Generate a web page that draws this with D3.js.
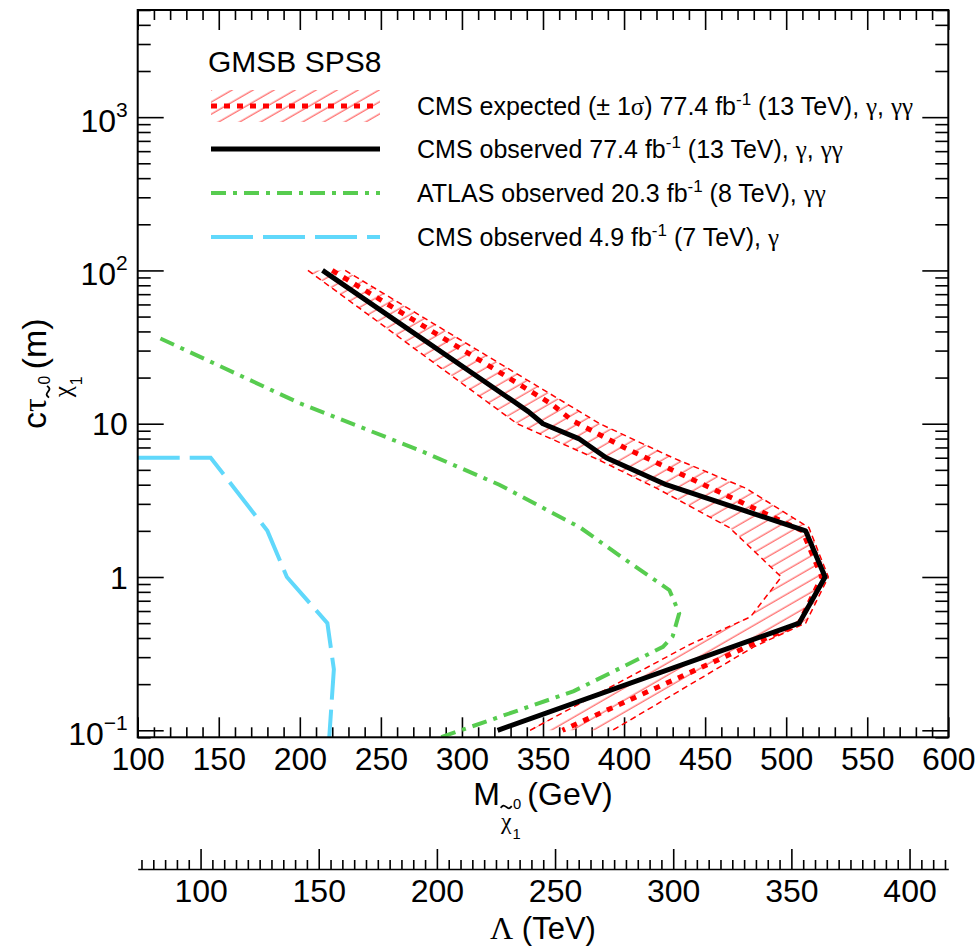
<!DOCTYPE html>
<html lang="en">
<head>
<meta charset="utf-8">
<title>GMSB SPS8 | long-lived neutralino limits</title>
<script src="https://cdnjs.cloudflare.com/ajax/libs/d3/7.8.5/d3.min.js"></script>
<style>
  body { margin: 0; background: #fff; }
  svg { display: block; font-family: "Liberation Sans", Arial, Helvetica, sans-serif; }
  .axis path, .axis line { stroke: #000; stroke-width: 1.6px; }
  .axis text { font-size: 32px; fill: #000; font-family: "Liberation Sans", Arial, sans-serif; }
</style>
</head>
<body>
<div id="chart"></div>
<script>
// ---- data (M in GeV, c*tau in m) ----
var massObs  = [214, 341, 350, 372, 389, 426, 512, 524, 508, 322];
var ctauObs  = [100, 12, 10, 8, 6, 4, 2, 1, 0.5, 0.1];

var massExp  = [220, 355, 368, 400, 510, 522, 508, 362];
var ctauExp  = [100, 13.5, 10.5, 7, 2, 1, 0.5, 0.1];

// +1 sigma (outer) and -1 sigma (inner) edges of the expected band
var massUp   = [228, 385, 430, 475, 514, 526, 512, 480, 393];
var ctauUp   = [100, 10, 6, 3.8, 2.1, 1, 0.5, 0.35, 0.1];
var massDn   = [205, 334, 383, 420, 465, 497, 478, 440, 342];
var ctauDn   = [100, 10, 5.9, 3.8, 2.1, 1, 0.55, 0.36, 0.1];

var massAtlas = [114, 200, 274, 323, 373, 398, 428, 434, 430, 424, 369, 280];
var ctauAtlas = [36, 13.6, 6.7, 4.0, 2.1, 1.36, 0.82, 0.58, 0.41, 0.35, 0.18, 0.085];

var massCms7 = [100, 145, 180, 192, 217, 221, 218];
var ctauCms7 = [6, 6, 2, 1, 0.5, 0.25, 0.085];

var xTickLabels = ["100", "150", "200", "250", "300", "350", "400", "450", "500", "550", "600"];
var yTickVals   = [0.1, 1, 10, 100, 1000];
var yTickBase   = ["10", "1", "10", "10", "10"];
var yTickExp    = ["\u22121", "", "", "2", "3"];
var lamTickLabels = ["100", "150", "200", "250", "300", "350", "400"];

var legendLabels = [
  ["CMS expected (\u00b1 1", "\u03c3", ") 77.4 fb", "-1", " (13 TeV), ", "\u03b3", ", ", "\u03b3\u03b3"],
  ["CMS observed 77.4 fb", "-1", " (13 TeV), ", "\u03b3", ", ", "\u03b3\u03b3"],
  ["ATLAS observed 20.3 fb", "-1", " (8 TeV), ", "\u03b3\u03b3"],
  ["CMS observed 4.9 fb", "-1", " (7 TeV), ", "\u03b3"]
];

function zip(ms, cs) { return ms.map(function (m, i) { return [m, cs[i]]; }); }

var W = 979, H = 947;
var frame = { left: 137.7, right: 948.3, top: 10, bottom: 737.3 };

var svg = d3.select("#chart").append("svg")
  .attr("width", W).attr("height", H);

var x = d3.scaleLinear().domain([100, 600]).range([frame.left, frame.right]);
var y = d3.scaleLog().domain([0.09, 5000]).range([frame.bottom, frame.top]);
var lam = d3.scaleLinear().domain([73.4, 416.4]).range([frame.left, frame.right]);

var defs = svg.append("defs");
defs.append("clipPath").attr("id", "clip")
  .append("rect")
  .attr("x", frame.left).attr("y", frame.top)
  .attr("width", frame.right - frame.left).attr("height", frame.bottom - frame.top);

var pat = defs.append("pattern")
  .attr("id", "hatch")
  .attr("patternUnits", "userSpaceOnUse")
  .attr("width", 10).attr("height", 10.5)
  .attr("patternTransform", "rotate(-30)");
pat.append("line")
  .attr("x1", 0).attr("y1", 5).attr("x2", 10).attr("y2", 5)
  .attr("stroke", "#ff6a6a").attr("stroke-width", 1.3);

// ---- ticks ----
var xMajor = d3.range(100, 601, 50);
var xMinor = d3.range(100, 601, 10).filter(function (v) { return v % 50 !== 0; });
var yMinor = [];
[-2, -1, 0, 1, 2, 3].forEach(function (d) {
  for (var k = 2; k <= 9; k++) {
    var v = k * Math.pow(10, d);
    if (v >= 0.09 && v <= 5000) yMinor.push(+v.toPrecision(3));
  }
});

function cleanAxis(g) { g.select(".domain").remove(); }

svg.append("g").attr("class", "axis")
  .attr("transform", "translate(0," + frame.bottom + ")")
  .call(d3.axisBottom(x).tickValues(xMajor).tickSize(-20)
    .tickFormat(function (d, i) { return xTickLabels[i]; }))
  .call(cleanAxis)
  .selectAll("text").attr("y", 33).attr("dy", null);

svg.append("g").attr("class", "axis")
  .attr("transform", "translate(0," + frame.bottom + ")")
  .call(d3.axisBottom(x).tickValues(xMinor).tickSize(-10).tickFormat(""))
  .call(cleanAxis);

svg.append("g").attr("class", "axis")
  .attr("transform", "translate(0," + frame.top + ")")
  .call(d3.axisTop(x).tickValues(xMajor).tickSize(-20).tickFormat(""))
  .call(cleanAxis);

svg.append("g").attr("class", "axis")
  .attr("transform", "translate(0," + frame.top + ")")
  .call(d3.axisTop(x).tickValues(xMinor).tickSize(-10).tickFormat(""))
  .call(cleanAxis);

var yLeft = svg.append("g").attr("class", "axis")
  .attr("transform", "translate(" + frame.left + ",0)")
  .call(d3.axisLeft(y).tickValues(yTickVals).tickSize(-26).tickFormat(""))
  .call(cleanAxis);

yLeft.selectAll(".tick text").each(function (d, i) {
  var t = d3.select(this).attr("x", -10);
  t.text(null);
  t.append("tspan").text(yTickBase[i]);
  if (yTickExp[i]) {
    t.attr("dy", null).attr("y", 14.5);
    t.append("tspan").attr("dy", -15).style("font-size", "21px").text(yTickExp[i]);
  } else {
    t.attr("dy", null).attr("y", 11);
  }
});

svg.append("g").attr("class", "axis")
  .attr("transform", "translate(" + frame.left + ",0)")
  .call(d3.axisLeft(y).tickValues(yMinor).tickSize(-13).tickFormat(""))
  .call(cleanAxis);

svg.append("g").attr("class", "axis")
  .attr("transform", "translate(" + frame.right + ",0)")
  .call(d3.axisRight(y).tickValues(yTickVals).tickSize(-26).tickFormat(""))
  .call(cleanAxis);

svg.append("g").attr("class", "axis")
  .attr("transform", "translate(" + frame.right + ",0)")
  .call(d3.axisRight(y).tickValues(yMinor).tickSize(-13).tickFormat(""))
  .call(cleanAxis);

// ---- secondary Lambda axis ----
var lamMajor = d3.range(100, 401, 50);
var lamMinor = d3.range(75, 416, 5).filter(function (v) { return v % 50 !== 0; });
var lamY = 869;

svg.append("g").attr("class", "axis")
  .attr("transform", "translate(0," + lamY + ")")
  .call(d3.axisBottom(lam).tickValues(lamMajor).tickSize(-20).tickSizeOuter(0)
    .tickFormat(function (d, i) { return lamTickLabels[i]; }))
  .selectAll("text").attr("y", 33).attr("dy", null);

svg.append("g").attr("class", "axis")
  .attr("transform", "translate(0," + lamY + ")")
  .call(d3.axisBottom(lam).tickValues(lamMinor).tickSize(-9).tickFormat(""))
  .call(cleanAxis);

// ---- curves ----
var line = d3.line()
  .x(function (d) { return x(d[0]); })
  .y(function (d) { return y(d[1]); });

var plot = svg.append("g").attr("clip-path", "url(#clip)");

var up = zip(massUp, ctauUp), dn = zip(massDn, ctauDn);
plot.append("path")
  .attr("d", line(up.concat(dn.slice().reverse())) + "Z")
  .attr("fill", "url(#hatch)").attr("stroke", "none");

[up, dn].forEach(function (pts) {
  plot.append("path").attr("d", line(pts))
    .attr("fill", "none").attr("stroke", "#ff0000")
    .attr("stroke-width", 1.5).attr("stroke-dasharray", "6,4");
});

plot.append("path").attr("d", line(zip(massAtlas, ctauAtlas)))
  .attr("fill", "none").attr("stroke", "#57cc4f")
  .attr("stroke-width", 4).attr("stroke-dasharray", "15,7,4,7");

plot.append("path").attr("d", line(zip(massCms7, ctauCms7)))
  .attr("fill", "none").attr("stroke", "#60d8fb")
  .attr("stroke-width", 4).attr("stroke-dasharray", "42,10");

plot.append("path").attr("d", line(zip(massExp, ctauExp)))
  .attr("fill", "none").attr("stroke", "#ff0000")
  .attr("stroke-width", 5).attr("stroke-dasharray", "6,7");

plot.append("path").attr("d", line(zip(massObs, ctauObs)))
  .attr("fill", "none").attr("stroke", "#000")
  .attr("stroke-width", 5).attr("stroke-linejoin", "round");

// frame
svg.append("rect")
  .attr("x", frame.left).attr("y", frame.top)
  .attr("width", frame.right - frame.left).attr("height", frame.bottom - frame.top)
  .attr("fill", "none").attr("stroke", "#000").attr("stroke-width", 2);

// ---- legend ----
var leg = svg.append("g");
leg.append("text").attr("x", 208).attr("y", 72)
  .style("font-size", "30px").text("GMSB SPS8");

var legY = [106, 149, 193, 237];
var sx0 = 211, sx1 = 380, tx = 417;

leg.append("rect").attr("x", sx0).attr("y", legY[0] - 16)
  .attr("width", sx1 - sx0).attr("height", 32).attr("fill", "url(#hatch)");
leg.append("line").attr("x1", sx0).attr("x2", sx1).attr("y1", legY[0]).attr("y2", legY[0])
  .attr("stroke", "#ff0000").attr("stroke-width", 5).attr("stroke-dasharray", "6,7");
leg.append("line").attr("x1", sx0).attr("x2", sx1).attr("y1", legY[1]).attr("y2", legY[1])
  .attr("stroke", "#000").attr("stroke-width", 5);
leg.append("line").attr("x1", sx0).attr("x2", sx1).attr("y1", legY[2]).attr("y2", legY[2])
  .attr("stroke", "#57cc4f").attr("stroke-width", 4).attr("stroke-dasharray", "15,7,4,7");
leg.append("line").attr("x1", sx0).attr("x2", sx1).attr("y1", legY[3]).attr("y2", legY[3])
  .attr("stroke", "#60d8fb").attr("stroke-width", 4).attr("stroke-dasharray", "42,10");

legendLabels.forEach(function (parts, i) {
  var t = leg.append("text").attr("x", tx).attr("y", legY[i] + 9).style("font-size", "25px");
  var raised = false;
  parts.forEach(function (p) {
    var s = t.append("tspan").text(p);
    if (p === "-1") {
      s.attr("dy", -10).style("font-size", "17px");
      raised = true;
    } else if (raised) {
      s.attr("dy", 10);
      raised = false;
    }
    if (/[\u03b3\u03c3]/.test(p)) s.style("font-family", "'Liberation Serif', 'DejaVu Serif', serif");
  });
});

// ---- axis titles ----
var tildeLine = d3.line().curve(d3.curveBasis);

function subTitle(g, fs, parts) {
  // M / c tau with a tilde-chi subscript carrying ^0 and _1
  var cx = 0;
  parts.head.forEach(function (h) {
    var t = g.append("text").attr("x", cx).attr("y", 0).style("font-size", fs + "px").text(h[0]);
    if (h[1]) t.style("font-family", "'Liberation Serif', serif");
    cx += t.node().getComputedTextLength();
  });
  cx += 1;
  var chi = g.append("text").attr("x", cx).attr("y", fs * 0.74)
    .style("font-size", (fs * 0.74) + "px")
    .style("font-family", "'Liberation Serif', serif").text("\u03c7");
  var wc = chi.node().getComputedTextLength();
  // tilde accent over chi
  var tw = wc * 1.05, ty = fs * 0.06, ta = fs * 0.07;
  var t0 = cx + wc / 2 - tw / 2;
  g.append("path")
    .attr("d", tildeLine([[t0, ty + ta * 0.4], [t0 + tw * 0.25, ty - ta], [t0 + tw * 0.5, ty],
      [t0 + tw * 0.75, ty + ta], [t0 + tw, ty - ta * 0.4]]))
    .attr("fill", "none").attr("stroke", "#000").attr("stroke-width", fs * 0.055);
  var cr = cx + Math.max(wc, tw) + 1;
  g.append("text").attr("x", cr).attr("y", fs * 0.12)
    .style("font-size", (fs * 0.46) + "px").text("0");
  g.append("text").attr("x", cx + wc + 1).attr("y", fs * 1.06)
    .style("font-size", (fs * 0.46) + "px").text("1");
  cx = cr + fs * 0.45;
  var tail = g.append("text").attr("x", cx).attr("y", 0).style("font-size", fs + "px").text(parts.tail);
  cx += tail.node().getComputedTextLength();
  return cx;
}

var xt = svg.append("g");
var xw = subTitle(xt, 32, { head: [["M", false]], tail: " (GeV)" });
xt.attr("transform", "translate(" + ((frame.left + frame.right) / 2 - xw / 2) + ",805)");

var yt = svg.append("g");
var yw = subTitle(yt, 34, { head: [["c", false], ["\u03c4", true]], tail: " (m)" });
yt.attr("transform", "translate(46," + ((frame.top + frame.bottom) / 2) + ") rotate(-90) translate(" + (-yw / 2) + ",0)");

var lt = svg.append("text")
  .attr("x", (frame.left + frame.right) / 2).attr("y", 939)
  .attr("text-anchor", "middle").style("font-size", "31px");
lt.append("tspan").style("font-family", "'Liberation Serif', serif").style("font-size", "32px").text("\u039b");
lt.append("tspan").text(" (TeV)");
</script>
</body>
</html>
